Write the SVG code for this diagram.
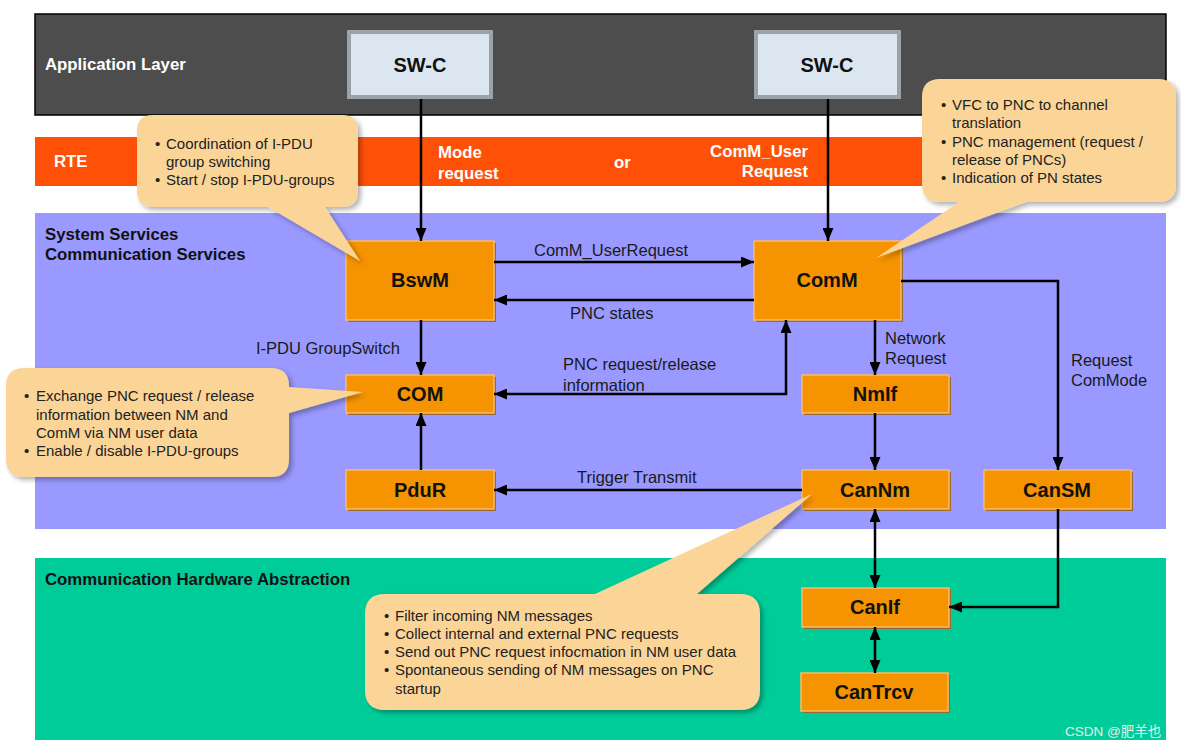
<svg xmlns="http://www.w3.org/2000/svg" width="1181" height="749" viewBox="0 0 1181 749">
<style>
.band-title{font-family:"Liberation Sans",Arial,sans-serif;font-weight:bold;font-size:16.8px}
.node-rect{fill:#f69300;stroke:#f9bb66;stroke-width:1.5}
.node-shadow{fill:#9c6a30}
.node-text{font-family:"Liberation Sans",Arial,sans-serif;font-weight:bold;font-size:20px;fill:#111;text-anchor:middle}
.lbl{font-family:"Liberation Sans",Arial,sans-serif;font-size:16.5px;fill:#1a1a1a}
.co{fill:#fbd598;filter:url(#sh)}
.cot{font-family:"Liberation Sans",Arial,sans-serif;font-size:15px;fill:#222}
.conn{fill:none;stroke:#000;stroke-width:2.5}
</style>
<defs>
<marker id="ah" markerUnits="userSpaceOnUse" markerWidth="13" markerHeight="11" refX="13" refY="5.5" orient="auto-start-reverse">
<path d="M0,0 L13,5.5 L0,11 Z" fill="#000"/>
</marker>
<filter id="sh" x="-10%" y="-10%" width="125%" height="130%">
<feDropShadow dx="3" dy="3" stdDeviation="2.5" flood-color="#000" flood-opacity="0.3"/>
</filter>
</defs>
<rect width="1181" height="749" fill="#fff"/>
<!-- bands -->
<g id="bands">
<rect x="35" y="14" width="1131" height="101" fill="#4d4d4d" stroke="#000" stroke-width="1.5"/>
<text class="band-title" x="45" y="70" fill="#fff">Application Layer</text>
<rect x="35" y="137" width="1131" height="49" fill="#ff5008"/>
<text class="band-title" x="54" y="167" fill="#fff">RTE</text>
<text class="band-title" x="438" y="158" fill="#fff">Mode</text>
<text class="band-title" x="438" y="179" fill="#fff">request</text>
<text class="band-title" x="614" y="168" fill="#fff">or</text>
<text class="band-title" x="808" y="157" fill="#fff" text-anchor="end">ComM_User</text>
<text class="band-title" x="808" y="177" fill="#fff" text-anchor="end">Request</text>
<rect x="35" y="213" width="1131" height="316" fill="#9999ff"/>
<text class="band-title" x="45" y="240" fill="#111">System Services</text>
<text class="band-title" x="45" y="260" fill="#111">Communication Services</text>
<rect x="35" y="558" width="1131" height="182" fill="#00cc99"/>
<text class="band-title" x="45" y="585" fill="#111">Communication Hardware Abstraction</text>
</g>
<!-- SW-C nodes -->
<g id="swc1">
<rect x="349" y="32" width="142" height="65" fill="#dce6f0" stroke="#9ca3a8" stroke-width="4"/>
<text class="node-text" x="420" y="72">SW-C</text>
</g>
<g id="swc2">
<rect x="756" y="32" width="143" height="65" fill="#dce6f0" stroke="#9ca3a8" stroke-width="4"/>
<text class="node-text" x="827" y="72">SW-C</text>
</g>
<!-- module nodes -->
<g id="bswm">
<rect class="node-shadow" x="348" y="243" width="148" height="79"/>
<rect class="node-rect" x="346" y="241" width="148" height="79"/>
<text class="node-text" x="420" y="287">BswM</text>
</g>
<g id="comm">
<rect class="node-shadow" x="756" y="243" width="147" height="79"/>
<rect class="node-rect" x="754" y="241" width="147" height="79"/>
<text class="node-text" x="827" y="287">ComM</text>
</g>
<g id="com">
<rect class="node-shadow" x="348" y="377" width="148" height="38"/>
<rect class="node-rect" x="346" y="375" width="148" height="38"/>
<text class="node-text" x="420" y="401">COM</text>
</g>
<g id="nmif">
<rect class="node-shadow" x="804" y="377" width="147" height="38"/>
<rect class="node-rect" x="802" y="375" width="147" height="38"/>
<text class="node-text" x="875" y="401">NmIf</text>
</g>
<g id="pdur">
<rect class="node-shadow" x="348" y="472" width="148" height="39"/>
<rect class="node-rect" x="346" y="470" width="148" height="39"/>
<text class="node-text" x="420" y="497">PduR</text>
</g>
<g id="cannm">
<rect class="node-shadow" x="804" y="472" width="147" height="39"/>
<rect class="node-rect" x="802" y="470" width="147" height="39"/>
<text class="node-text" x="875" y="497">CanNm</text>
</g>
<g id="cansm">
<rect class="node-shadow" x="986" y="472" width="147" height="39"/>
<rect class="node-rect" x="984" y="470" width="147" height="39"/>
<text class="node-text" x="1057" y="497">CanSM</text>
</g>
<g id="canif">
<rect class="node-shadow" x="804" y="590" width="147" height="39"/>
<rect class="node-rect" x="802" y="588" width="147" height="39"/>
<text class="node-text" x="875" y="614">CanIf</text>
</g>
<g id="cantrcv">
<rect class="node-shadow" x="803" y="675" width="147" height="38"/>
<rect class="node-rect" x="801" y="673" width="147" height="38"/>
<text class="node-text" x="874" y="699">CanTrcv</text>
</g>
<!-- connectors -->
<g id="connectors">
<path class="conn" d="M421,99 V241" marker-end="url(#ah)"/>
<path class="conn" d="M828,99 V241" marker-end="url(#ah)"/>
<path class="conn" d="M494,262 H754" marker-end="url(#ah)"/>
<path class="conn" d="M754,300 H494" marker-end="url(#ah)"/>
<path class="conn" d="M421,320 V375" marker-end="url(#ah)"/>
<path class="conn" d="M421,470 V413" marker-end="url(#ah)"/>
<path class="conn" d="M494,394 H786 V320" marker-start="url(#ah)" marker-end="url(#ah)"/>
<path class="conn" d="M875,320 V375" marker-end="url(#ah)"/>
<path class="conn" d="M875,413 V470" marker-end="url(#ah)"/>
<path class="conn" d="M802,490 H494" marker-end="url(#ah)"/>
<path class="conn" d="M901,281 H1058 V470" marker-end="url(#ah)"/>
<path class="conn" d="M875,509 V588" marker-start="url(#ah)" marker-end="url(#ah)"/>
<path class="conn" d="M1058,509 V607 H949" marker-end="url(#ah)"/>
<path class="conn" d="M875,627 V673" marker-start="url(#ah)" marker-end="url(#ah)"/>
<text class="lbl" x="534" y="256">ComM_UserRequest</text>
<text class="lbl" x="570" y="319">PNC states</text>
<text class="lbl" x="256" y="354">I-PDU GroupSwitch</text>
<text class="lbl" x="563" y="370">PNC request/release</text>
<text class="lbl" x="563" y="391">information</text>
<text class="lbl" x="885" y="344">Network</text>
<text class="lbl" x="885" y="364">Request</text>
<text class="lbl" x="1071" y="366">Request</text>
<text class="lbl" x="1071" y="386">ComMode</text>
<text class="lbl" x="577" y="483">Trigger Transmit</text>
</g>
<!-- callouts -->
<g id="callout-bswm">
<path class="co" d="M153,115 H342 Q358,115 358,131 V191 Q358,207 342,207 H325 L360,261 L268,207 H153 Q137,207 137,191 V131 Q137,115 153,115 Z"/>
<text class="cot" x="155" y="148.5">•</text><text class="cot" x="166" y="148.5">Coordination of I-PDU</text>
<text class="cot" x="166" y="166.5">group switching</text>
<text class="cot" x="155" y="185">•</text><text class="cot" x="166" y="185">Start / stop I-PDU-groups</text>
</g>
<g id="callout-comm">
<path class="co" d="M940,79 H1158 Q1176,79 1176,97 V184 Q1176,202 1158,202 H1026 L876,258 L959,202 H940 Q922,202 922,184 V97 Q922,79 940,79 Z"/>
<text class="cot" x="941" y="109.5">•</text><text class="cot" x="952" y="109.5">VFC to PNC to channel</text>
<text class="cot" x="952" y="128">translation</text>
<text class="cot" x="941" y="146.5">•</text><text class="cot" x="952" y="146.5">PNC management (request /</text>
<text class="cot" x="952" y="164.5">release of PNCs)</text>
<text class="cot" x="941" y="182.5">•</text><text class="cot" x="952" y="182.5">Indication of PN states</text>
</g>
<g id="callout-com">
<path class="co" d="M24,368 H271 Q289,368 289,386 V387 L363,392 L289,413 V459 Q289,477 271,477 H24 Q6,477 6,459 V386 Q6,368 24,368 Z"/>
<text class="cot" x="24" y="401">•</text><text class="cot" x="36" y="401">Exchange PNC request / release</text>
<text class="cot" x="36" y="419.5">information between NM and</text>
<text class="cot" x="36" y="437.5">ComM via NM user data</text>
<text class="cot" x="24" y="456">•</text><text class="cot" x="36" y="456">Enable / disable I-PDU-groups</text>
</g>
<g id="callout-cannm">
<path class="co" d="M385,594 H595 L812,494 L697,594 H740 Q760,594 760,614 V690 Q760,710 740,710 H385 Q365,710 365,690 V614 Q365,594 385,594 Z"/>
<text class="cot" x="384" y="621">•</text><text class="cot" x="395" y="621">Filter incoming NM messages</text>
<text class="cot" x="384" y="639">•</text><text class="cot" x="395" y="639">Collect internal and external PNC requests</text>
<text class="cot" x="384" y="657">•</text><text class="cot" x="395" y="657">Send out PNC request infocmation in NM user data</text>
<text class="cot" x="384" y="675">•</text><text class="cot" x="395" y="675">Spontaneous sending of NM messages on PNC</text>
<text class="cot" x="395" y="694">startup</text>
</g>
<text x="1065" y="736" font-family="'Liberation Sans','Noto Sans CJK SC',sans-serif" font-size="13.5" fill="#e6ece9">CSDN @肥羊也</text>
</svg>
